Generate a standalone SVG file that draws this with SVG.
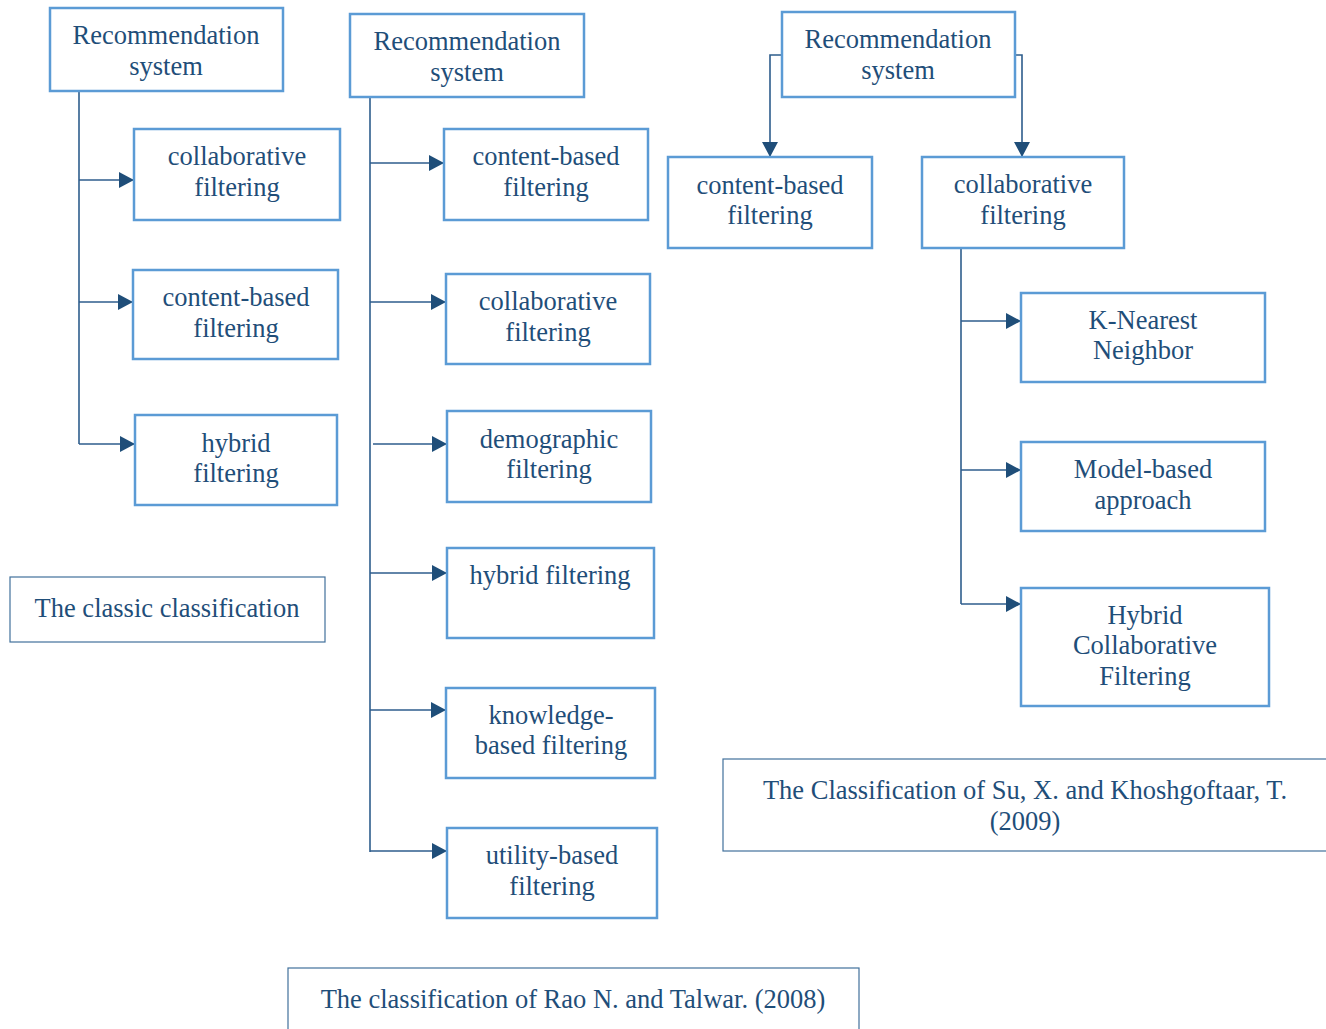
<svg xmlns="http://www.w3.org/2000/svg" width="1326" height="1029" viewBox="0 0 1326 1029">
  <style>
    .box { fill: #ffffff; stroke: #5B9BD5; stroke-width: 2.5; }
    .cap { fill: #ffffff; stroke: #41719C; stroke-width: 1.2; }
    .lbl { font-family: "Liberation Serif", "Times New Roman", serif; font-size: 26.5px; fill: #1F4E79; text-anchor: middle; }
    .wire { fill: none; stroke: #2E5D8C; stroke-width: 1.6; }
  </style>
  <defs>
    <marker id="arrow" markerUnits="userSpaceOnUse" markerWidth="15" markerHeight="16" refX="15" refY="8" orient="auto">
      <path d="M0,0 L15,8 L0,16 Z" fill="#1F4E79"/>
    </marker>
  </defs>
  <rect width="1326" height="1029" fill="#ffffff"/>

  <!-- connectors -->
  <g id="connectors">
    <!-- classic classification -->
    <path class="wire" d="M79,92 V444"/>
    <path class="wire" d="M79,180 H134" marker-end="url(#arrow)"/>
    <path class="wire" d="M79,302 H133" marker-end="url(#arrow)"/>
    <path class="wire" d="M79,444 H135" marker-end="url(#arrow)"/>
    <!-- Rao and Talwar -->
    <path class="wire" d="M370,97 V852"/>
    <path class="wire" d="M370,163 H444" marker-end="url(#arrow)"/>
    <path class="wire" d="M370,302 H446" marker-end="url(#arrow)"/>
    <path class="wire" d="M373,444 H447" marker-end="url(#arrow)"/>
    <path class="wire" d="M370,573 H447" marker-end="url(#arrow)"/>
    <path class="wire" d="M370,710 H446" marker-end="url(#arrow)"/>
    <path class="wire" d="M370,851 H447" marker-end="url(#arrow)"/>
    <!-- Su and Khoshgoftaar -->
    <path class="wire" d="M782,55 H770 V157" marker-end="url(#arrow)"/>
    <path class="wire" d="M1015,55 H1022 V157" marker-end="url(#arrow)"/>
    <path class="wire" d="M961,248 V604"/>
    <path class="wire" d="M961,321 H1021" marker-end="url(#arrow)"/>
    <path class="wire" d="M961,470 H1021" marker-end="url(#arrow)"/>
    <path class="wire" d="M961,604 H1021" marker-end="url(#arrow)"/>
  </g>

  <!-- classic classification -->
  <g id="c1-root">
    <rect class="box" x="50" y="8" width="233" height="83"/>
    <text class="lbl" x="166" y="44">Recommendation</text>
    <text class="lbl" x="166" y="75">system</text>
  </g>
  <g id="c1-collab">
    <rect class="box" x="134" y="129" width="206" height="91"/>
    <text class="lbl" x="237" y="165">collaborative</text>
    <text class="lbl" x="237" y="196">filtering</text>
  </g>
  <g id="c1-content">
    <rect class="box" x="133" y="270" width="205" height="89"/>
    <text class="lbl" x="236" y="306">content-based</text>
    <text class="lbl" x="236" y="337">filtering</text>
  </g>
  <g id="c1-hybrid">
    <rect class="box" x="135" y="415" width="202" height="90"/>
    <text class="lbl" x="236" y="452">hybrid</text>
    <text class="lbl" x="236" y="482">filtering</text>
  </g>
  <g id="c1-caption">
    <rect class="cap" x="10" y="577" width="315" height="65"/>
    <text class="lbl" x="167" y="617">The classic classification</text>
  </g>

  <!-- Rao and Talwar classification -->
  <g id="c2-root">
    <rect class="box" x="350" y="14" width="234" height="83"/>
    <text class="lbl" x="467" y="50">Recommendation</text>
    <text class="lbl" x="467" y="81">system</text>
  </g>
  <g id="c2-content">
    <rect class="box" x="444" y="129" width="204" height="91"/>
    <text class="lbl" x="546" y="165">content-based</text>
    <text class="lbl" x="546" y="196">filtering</text>
  </g>
  <g id="c2-collab">
    <rect class="box" x="446" y="274" width="204" height="90"/>
    <text class="lbl" x="548" y="310">collaborative</text>
    <text class="lbl" x="548" y="341">filtering</text>
  </g>
  <g id="c2-demographic">
    <rect class="box" x="447" y="411" width="204" height="91"/>
    <text class="lbl" x="549" y="448">demographic</text>
    <text class="lbl" x="549" y="478">filtering</text>
  </g>
  <g id="c2-hybrid">
    <rect class="box" x="447" y="548" width="207" height="90"/>
    <text class="lbl" x="550" y="584">hybrid filtering</text>
  </g>
  <g id="c2-knowledge">
    <rect class="box" x="446" y="688" width="209" height="90"/>
    <text class="lbl" x="551" y="724">knowledge-</text>
    <text class="lbl" x="551" y="754">based filtering</text>
  </g>
  <g id="c2-utility">
    <rect class="box" x="447" y="828" width="210" height="90"/>
    <text class="lbl" x="552" y="864">utility-based</text>
    <text class="lbl" x="552" y="895">filtering</text>
  </g>
  <g id="c2-caption">
    <rect class="cap" x="288" y="968" width="571" height="70"/>
    <text class="lbl" x="573" y="1008">The classification of Rao N. and Talwar. (2008)</text>
  </g>

  <!-- Su and Khoshgoftaar classification -->
  <g id="c3-root">
    <rect class="box" x="782" y="12" width="233" height="85"/>
    <text class="lbl" x="898" y="48">Recommendation</text>
    <text class="lbl" x="898" y="79">system</text>
  </g>
  <g id="c3-content">
    <rect class="box" x="668" y="157" width="204" height="91"/>
    <text class="lbl" x="770" y="194">content-based</text>
    <text class="lbl" x="770" y="224">filtering</text>
  </g>
  <g id="c3-collab">
    <rect class="box" x="922" y="157" width="202" height="91"/>
    <text class="lbl" x="1023" y="193">collaborative</text>
    <text class="lbl" x="1023" y="224">filtering</text>
  </g>
  <g id="c3-knn">
    <rect class="box" x="1021" y="293" width="244" height="89"/>
    <text class="lbl" x="1143" y="329">K-Nearest</text>
    <text class="lbl" x="1143" y="359">Neighbor</text>
  </g>
  <g id="c3-model">
    <rect class="box" x="1021" y="442" width="244" height="89"/>
    <text class="lbl" x="1143" y="478">Model-based</text>
    <text class="lbl" x="1143" y="509">approach</text>
  </g>
  <g id="c3-hybrid">
    <rect class="box" x="1021" y="588" width="248" height="118"/>
    <text class="lbl" x="1145" y="624">Hybrid</text>
    <text class="lbl" x="1145" y="654">Collaborative</text>
    <text class="lbl" x="1145" y="685">Filtering</text>
  </g>
  <g id="c3-caption">
    <rect class="cap" x="723" y="759" width="620" height="92"/>
    <text class="lbl" x="1025" y="799">The Classification of Su, X. and Khoshgoftaar, T.</text>
    <text class="lbl" x="1025" y="830">(2009)</text>
  </g>
</svg>
